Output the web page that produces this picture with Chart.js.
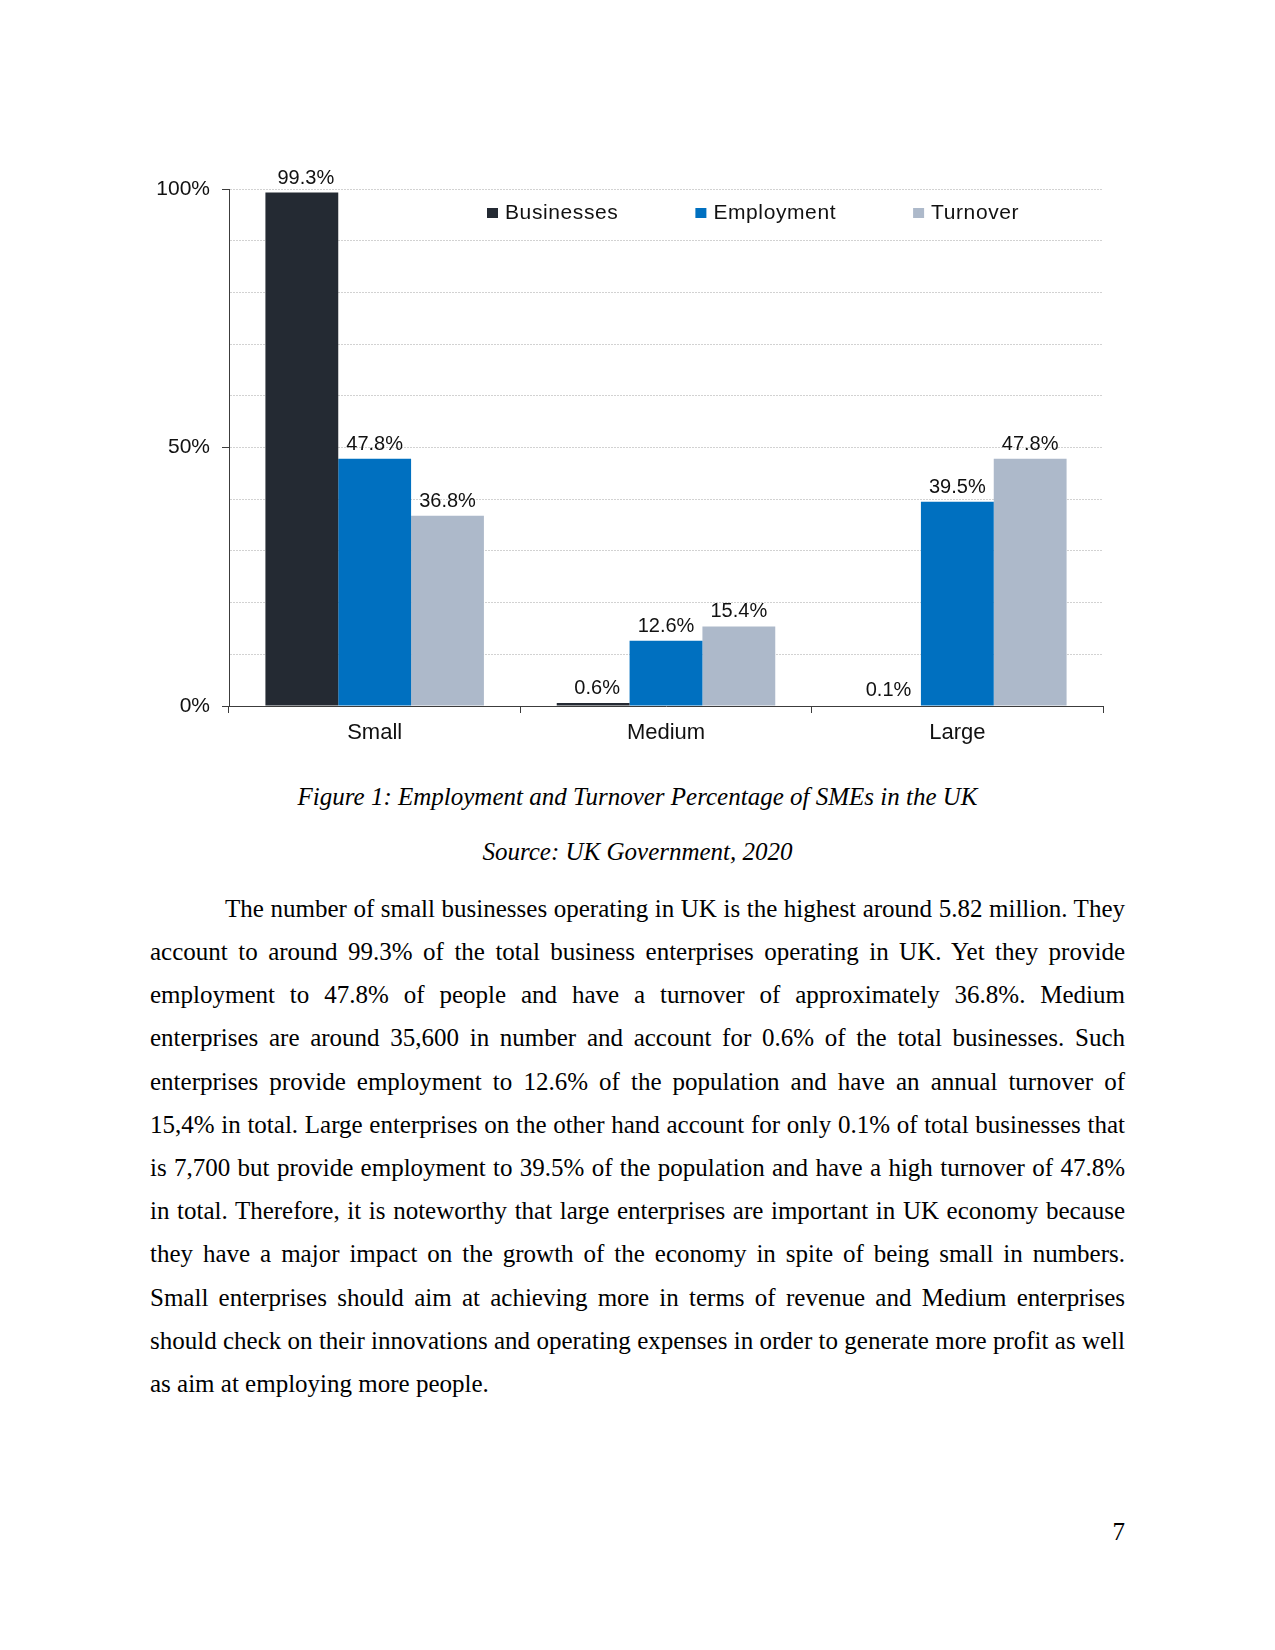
<!DOCTYPE html>
<html>
<head>
<meta charset="utf-8">
<script src="https://cdn.jsdelivr.net/npm/chart.js@4/dist/chart.umd.min.js"></script>
<style>
  html, body { margin:0; padding:0; background:#fff; }
  .page { position:relative; width:1275px; height:1650px; background:#fff; overflow:hidden; }
  .chart-box { position:absolute; left:130px; top:140px; width:1000px; height:620px; }
  .serif { font-family:"Liberation Serif", "Times New Roman", serif; font-size:25px; line-height:43.2px; color:#000; }
  .cap { position:absolute; left:0; width:1275px; text-align:center; font-style:italic; }
  .body { position:absolute; left:150px; top:886.7px; width:975px; }
  .ln { text-align:justify; text-align-last:justify; white-space:nowrap; }
  .ln.last { text-align-last:left; }
  .ln.first { text-indent:75px; }
  .pgno { position:absolute; left:1000px; width:125px; top:1510px; text-align:right; }
</style>
</head>
<body>
<div class="page">
  <div class="chart-box"><canvas id="smeChart" width="1000" height="620"></canvas></div>

  <div class="serif cap" style="top:775px">Figure 1: Employment and Turnover Percentage of SMEs in the UK</div>
  <div class="serif cap" style="top:830px">Source: UK Government, 2020</div>

  <div class="serif body">
    <div class="ln first">The number of small businesses operating in UK is the highest around 5.82 million. They</div>
    <div class="ln">account to around 99.3% of the total business enterprises operating in UK. Yet they provide</div>
    <div class="ln">employment to 47.8% of people and have a turnover of approximately 36.8%. Medium</div>
    <div class="ln">enterprises are around 35,600 in number and account for 0.6% of the total businesses. Such</div>
    <div class="ln">enterprises provide employment to 12.6% of the population and have an annual turnover of</div>
    <div class="ln">15,4% in total. Large enterprises on the other hand account for only 0.1% of total businesses that</div>
    <div class="ln">is 7,700 but provide employment to 39.5% of the population and have a high turnover of 47.8%</div>
    <div class="ln">in total. Therefore, it is noteworthy that large enterprises are important in UK economy because</div>
    <div class="ln">they have a major impact on the growth of the economy in spite of being small in numbers.</div>
    <div class="ln">Small enterprises should aim at achieving more in terms of revenue and Medium enterprises</div>
    <div class="ln">should check on their innovations and operating expenses in order to generate more profit as well</div>
    <div class="ln last">as aim at employing more people.</div>
  </div>

  <div class="serif pgno">7</div>
</div>

<script>
// ---- data ----
const categories = ['Small', 'Medium', 'Large'];
const businesses = [99.3, 0.6, 0.1];
const employment = [47.8, 12.6, 39.5];
const turnover = [36.8, 15.4, 47.8];
const seriesNames = ['Businesses', 'Employment', 'Turnover'];
const seriesColors = ['#242a33', '#0070c0', '#adb9ca'];
const yLabelTicks = [0, 50, 100];

const SANS = "'Liberation Sans', Arial, sans-serif";
const INK = '#111111';

// value labels above each bar
const barLabels = {
  id: 'barLabels',
  afterDatasetsDraw(chart){
    const ctx = chart.ctx;
    ctx.save();
    ctx.font = '20px ' + SANS;
    ctx.fillStyle = INK;
    ctx.textAlign = 'center';
    ctx.textBaseline = 'alphabetic';
    chart.data.datasets.forEach((ds, di)=>{
      const shift = di === 0 ? 4 : 0; // the businesses labels sit a touch right in the original
      chart.getDatasetMeta(di).data.forEach((bar, i)=>{
        ctx.fillText(ds.data[i].toFixed(1) + '%', bar.x + shift, bar.y - 9);
      });
    });
    ctx.restore();
  }
};

// legend sits inside the plot, near the top
const innerLegend = {
  id: 'innerLegend',
  afterDatasetsDraw(chart){
    const ctx = chart.ctx;
    const area = chart.chartArea;
    ctx.save();
    ctx.font = '21px ' + SANS;
    if('letterSpacing' in ctx) ctx.letterSpacing = '0.6px';
    ctx.textBaseline = 'alphabetic';
    ctx.textAlign = 'left';
    let x = area.left + 258;
    const base = area.top + 30;
    chart.data.datasets.forEach(ds=>{
      ctx.fillStyle = ds.backgroundColor;
      ctx.fillRect(x, base - 11, 11, 10);
      ctx.fillStyle = INK;
      ctx.fillText(ds.label, x + 18, base);
      x += 18 + ctx.measureText(ds.label).width + 77;
    });
    ctx.restore();
  }
};

const datasets = [businesses, employment, turnover].map((vals, i)=>({
  label: seriesNames[i],
  data: vals,
  backgroundColor: seriesColors[i],
  borderWidth: 0,
  categoryPercentage: 0.75,
  barPercentage: 1.0
}));

new Chart(document.getElementById('smeChart'), {
  type: 'bar',
  data: { labels: categories, datasets },
  options: {
    responsive: false,
    animation: false,
    devicePixelRatio: 1,
    layout: { padding: { top: 49, right: 27, left: 0, bottom: 0 } },
    plugins: { legend: { display: false }, tooltip: { enabled: false } },
    scales: {
      x: {
        offset: true,
        grid: { offset: true, drawOnChartArea: false, drawTicks: true, tickLength: 7, tickColor: '#3c3c3c', tickWidth: 1 },
        border: { display: true, color: '#3c3c3c', width: 1 },
        ticks: { color: INK, font: { family: SANS, size: 22 }, padding: 7 },
        afterFit(s){ s.height = 54; }
      },
      y: {
        min: 0, max: 100,
        ticks: {
          stepSize: 10,
          color: INK,
          font: { family: SANS, size: 21 },
          padding: 12,
          callback: v => yLabelTicks.includes(v) ? v + '%' : ''
        },
        grid: {
          color: ctx => ctx.tick && ctx.tick.value === 0 ? 'rgba(0,0,0,0)' : '#d2d2d2',
          lineWidth: 1,
          tickLength: 7,
          tickColor: ctx => ctx.tick && yLabelTicks.includes(ctx.tick.value) ? '#3c3c3c' : 'rgba(0,0,0,0)'
        },
        border: { display: true, color: '#3c3c3c', width: 1, dash: [2, 1] },
        afterFit(s){ s.width = 99; }
      }
    }
  },
  plugins: [barLabels, innerLegend]
});
</script>
</body>
</html>
